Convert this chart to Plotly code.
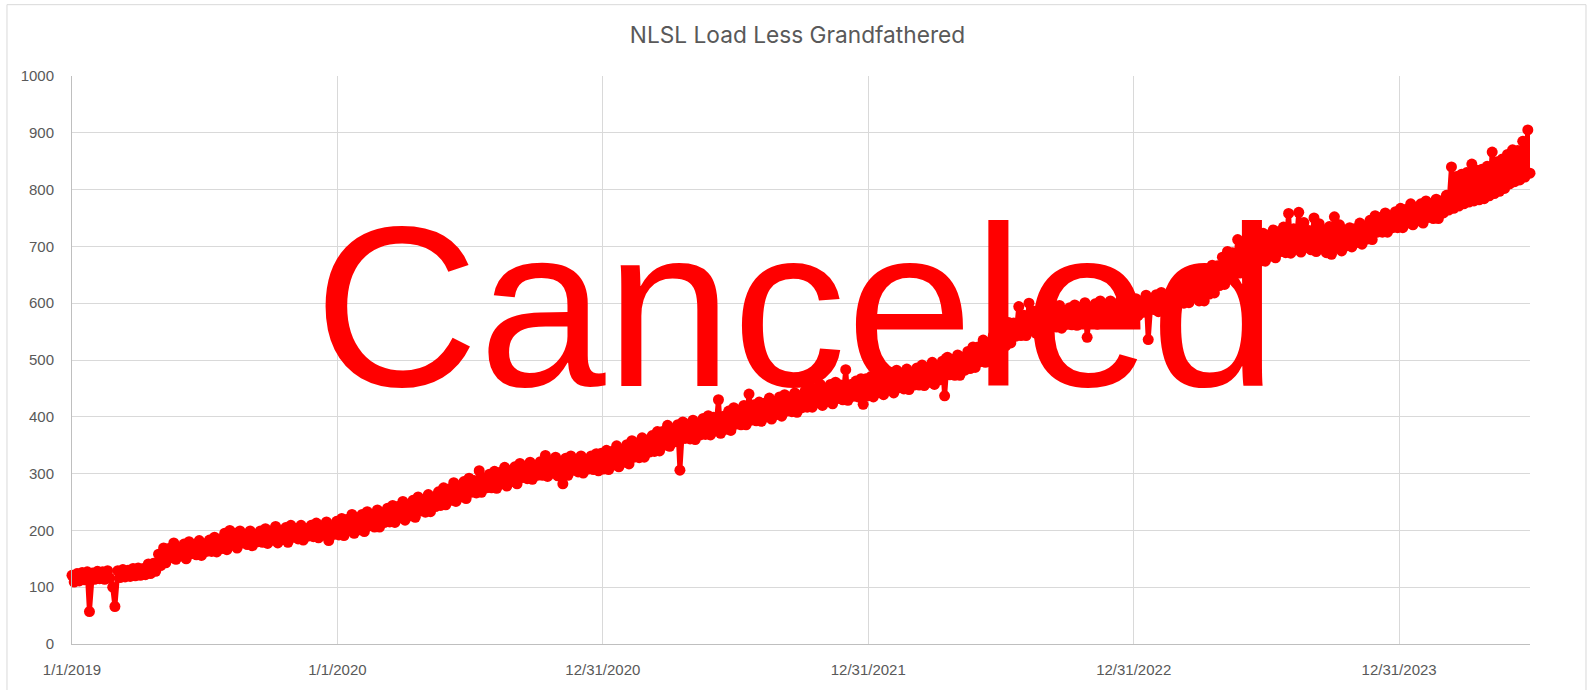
import pandas as pd
import plotly.graph_objects as go

# ---- data ----
# The reference holds dense daily values forming a thick band; it is read here
# week by week as the upper and the lower side of that band.
start_date = "2019-01-01"

band_upper = [
    121, 124, 126, 127, 125, 128, 127, 129, 100, 129, 131, 130, 133, 134, 133, 141, 142,
    158, 169, 168, 178, 170, 176, 180, 175, 182, 176, 183, 188, 184, 195, 200, 195, 199,
    193, 199, 193, 199, 203, 199, 207, 199, 205, 209, 203, 209, 203, 209, 213, 208, 215, 208,
    216, 221, 219, 228, 220, 228, 233, 228, 236, 231, 239, 244, 242, 251, 245, 253, 259,
    254, 263, 259, 268, 275, 273, 284, 278, 286, 292, 288, 305, 292, 299, 304, 302, 311,
    305, 312, 318, 313, 320, 314, 321, 332, 321, 329, 321, 327, 331, 325, 331, 325, 331, 335,
    336, 341, 339, 349, 343, 351, 358, 354, 363, 359, 367, 374, 374, 385, 379, 386, 391,
    387, 394, 389, 397, 402, 399, 430, 401, 410, 416, 412, 420, 440, 421, 426, 424, 433,
    427, 435, 439, 435, 442, 437, 445, 451, 449, 457, 450, 457, 461, 456, 483, 457, 463, 467,
    467, 471, 469, 478, 472, 478, 482, 477, 484, 479, 486, 491, 487, 496, 490, 498, 505,
    501, 509, 505, 515, 523, 523, 535, 531, 543, 553, 553, 566, 565, 594, 579, 600, 586,
    579, 586, 591, 586, 596, 586, 592, 597, 593, 601, 593, 599, 604, 598, 604, 598, 605, 609,
    604, 608, 604, 614, 608, 615, 619, 614, 622, 617, 624, 631, 630,
    644, 650, 652, 667, 666, 681, 691, 689, 712, 704, 702, 716, 713, 723, 720, 729, 726,
    734, 758, 731, 760, 742, 728, 750, 740, 729, 735, 752, 738,
    729, 733, 731, 741, 736, 746, 754, 751, 759, 754, 761, 767, 765, 775, 768, 775, 780,
    775, 783, 780,
    790, 840, 823, 827, 830, 845, 834, 836, 841, 866, 849, 854, 862, 870, 869, 885, 905,
]
band_lower = [
    109, 111, 113, 57, 114, 115, 114, 116, 66, 117, 118, 119, 120, 121, 122, 124, 128,
    138, 143, 152, 149, 155, 150, 159, 157, 156, 163, 163, 162, 168, 166, 174, 169, 178,
    175, 173, 180, 179, 177, 183, 178, 184, 179, 188, 185, 183, 190, 189, 187, 192, 182, 193,
    192, 191, 199, 195, 201, 198, 208, 206, 206, 214, 215, 214, 222, 218, 226, 223, 234,
    232, 233, 242, 244, 245, 253, 251, 259, 256, 267, 266, 267, 275, 275, 274, 282, 278,
    286, 282, 293, 291, 290, 297, 297, 295, 301, 296, 282, 297, 306, 303, 301, 308, 307, 305,
    308, 307, 315, 312, 320, 317, 329, 328, 329, 338, 339, 340, 350, 348, 356, 306, 362,
    361, 360, 368, 369, 368, 375, 371, 378, 376, 387, 386, 386, 394, 393, 392, 400, 396,
    404, 401, 410, 409, 408, 416, 417, 417, 425, 420, 427, 423, 432, 430, 429, 436, 435, 422,
    437, 435, 443, 439, 447, 442, 451, 449, 448, 456, 456, 455, 461, 457, 465, 437, 474,
    473, 473, 482, 485, 487, 497, 496, 506, 507, 522, 525, 530, 542, 543, 543, 551, 547,
    554, 550, 560, 558, 556, 563, 562, 561, 567, 540, 568, 563, 573, 570, 568, 575, 575, 573,
    580, 578, 584, 536, 589, 585, 594, 592, 592, 600, 600, 601, 610,
    604, 604, 616, 618, 631, 633, 650, 651, 653, 663, 661, 675, 674, 674, 683, 680, 691,
    689, 688, 695, 690, 698, 694, 691, 696, 689, 686, 697, 692,
    701, 699, 707, 704, 713, 712, 725, 725, 725, 733, 733, 733, 741, 738, 745, 741, 751,
    749, 749, 759,
    764, 767, 771, 775, 778, 780, 782, 784, 789, 793, 797, 802, 810, 814, 817, 822, 829,
]
assert len(band_upper) == len(band_lower)

tick_dates = ["2019-01-01", "2020-01-01", "2020-12-31", "2021-12-31", "2022-12-31", "2023-12-31"]
tick_labels = ["1/1/2019", "1/1/2020", "12/31/2020", "12/31/2021", "12/31/2022", "12/31/2023"]
y_ticks = list(range(0, 1001, 100))

title_text = "NLSL Load Less Grandfathered"
stamp_text = "Canceled"

# ---- build the series: upper reading early in each week, lower reading 3 days later ----
week_starts = pd.date_range(start_date, periods=len(band_upper), freq="7D")
dates, values = [], []
for d, hi, lo in zip(week_starts, band_upper, band_lower):
    dates += [d, d + pd.Timedelta(days=3)]
    values += [hi, lo]

fig = go.Figure()
fig.add_trace(go.Scatter(
    x=dates, y=values, mode="lines+markers",
    line=dict(color="#FF0000", width=5),
    marker=dict(size=11, color="#FF0000", line=dict(width=0)),
    cliponaxis=False, hoverinfo="x+y",
))

fig.update_layout(
    width=1588, height=690,
    margin=dict(l=72, r=58, t=76, b=43),
    paper_bgcolor="white", plot_bgcolor="white",
    showlegend=False,
    title=dict(text=title_text, x=0.5022, xref="container", xanchor="center",
               y=0.9496, yref="container", yanchor="middle",
               font=dict(family="Inter, Liberation Sans, Arial", size=22.7, color="#595959")),
    xaxis=dict(type="date", range=["2019-01-01", "2024-06-28"],
               tickvals=tick_dates, ticktext=tick_labels,
               showgrid=True, gridcolor="#D9D9D9", gridwidth=1,
               showline=True, linecolor="#BFBFBF", linewidth=1,
               zeroline=False, ticks="", ticklabelstandoff=12,
               tickfont=dict(family="Liberation Sans, Arial", size=15, color="#595959")),
    yaxis=dict(range=[0, 1000], tickvals=y_ticks,
               showgrid=True, gridcolor="#D9D9D9", gridwidth=1,
               showline=True, linecolor="#BFBFBF", linewidth=1,
               zeroline=False, ticks="", ticklabelstandoff=14,
               tickfont=dict(family="Liberation Sans, Arial", size=15, color="#595959")),
)

fig.add_annotation(
    text=stamp_text, xref="paper", yref="paper", x=0.4959, y=0.594,
    xanchor="center", yanchor="middle", showarrow=False,
    font=dict(family="Liberation Sans, Arial", size=228, color="#FF0000"),
)

fig.add_shape(type="rect", xref="paper", yref="paper",
              x0=-0.0446, x1=1.0384, y0=-0.09, y1=1.1256,
              line=dict(color="#D9D9D9", width=1), fillcolor="rgba(0,0,0,0)", layer="below")

fig.write_html("out.html", config={"displayModeBar": False},
               post_script="document.body.style.margin='0px'; document.body.style.overflow='hidden';")
